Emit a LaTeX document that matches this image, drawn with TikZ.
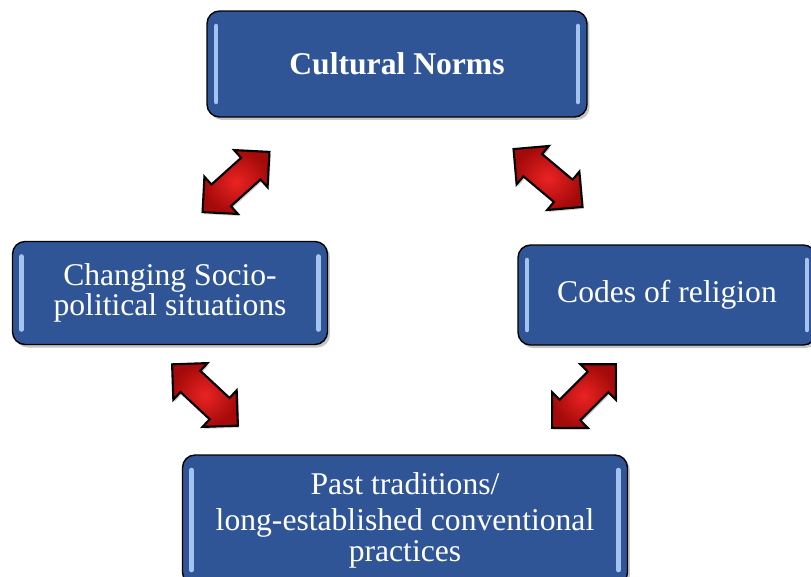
\documentclass[tikz,border=0pt]{standalone}
\usepackage{fontspec}
\setmainfont{Liberation Serif}
\usetikzlibrary{shapes,arrows,positioning,shadows}
\definecolor{NormBlue}{RGB}{47,85,151}
\definecolor{NormEdge}{RGB}{165,195,240}
\definecolor{LinkRed}{RGB}{235,35,35}
\definecolor{LinkDark}{RGB}{165,10,10}
\tikzset{
  every node/.style={
    font=\fontsize{18}{17.5}\selectfont
  },
  norm/.style={
    shape=rectangle,
    rounded corners=0.25cm,
    draw=black,
    thick,
    fill=NormBlue,
    text=white,
    align=center,
    drop shadow={shadow xshift=0.05cm,shadow yshift=-0.06cm,opacity=0.45},
    path picture={
      \draw[NormEdge, line width=2.6pt, line cap=round]
        ([xshift=0.18cm,yshift=-0.3cm]path picture bounding box.north west)
        -- ([xshift=0.18cm,yshift=0.3cm]path picture bounding box.south west);
      \draw[NormEdge, line width=2.6pt, line cap=round]
        ([xshift=-0.18cm,yshift=-0.3cm]path picture bounding box.north east)
        -- ([xshift=-0.18cm,yshift=0.3cm]path picture bounding box.south east);
    }
  },
  link/.style={
    shape=double arrow,
    draw=black,
    line width=1.2pt,
    inner color=LinkRed,
    outer color=LinkDark,
    inner sep=0.27cm,
    minimum height=1.8cm,
    double arrow head extend=0.21cm,
    drop shadow={shadow xshift=0.03cm,shadow yshift=-0.04cm,opacity=0.35}
  }
}

\begin{document}
\begin{tikzpicture}[x=0.02cm,y=-0.02cm]
\useasboundingbox (0,0) rectangle (811,576);

\node [norm, minimum width=7.6cm, minimum height=2.12cm] (norms) at (397,64)
  {\textbf{Cultural Norms}};
\node [norm, minimum width=6.3cm, minimum height=2.06cm] (socio) at (170,293)
  {Changing Socio-\\political situations};
\node [norm, minimum width=5.96cm, minimum height=2cm] (religion) at (667,295)
  {Codes of religion};
\node [norm, minimum width=8.9cm, minimum height=2.6cm] (past) at (405,520)
  {Past traditions/\\[3pt]long-established conventional\\practices};

% links between the boxes
\node [link, rotate=42] (normsocio) at (236,182) {};
\node [link, rotate=-40] (normreligion) at (548,178) {};
\node [link, rotate=-43] (sociopast) at (205,395) {};
\node [link, rotate=45] (religionpast) at (584,396) {};

\end{tikzpicture}
\end{document}
